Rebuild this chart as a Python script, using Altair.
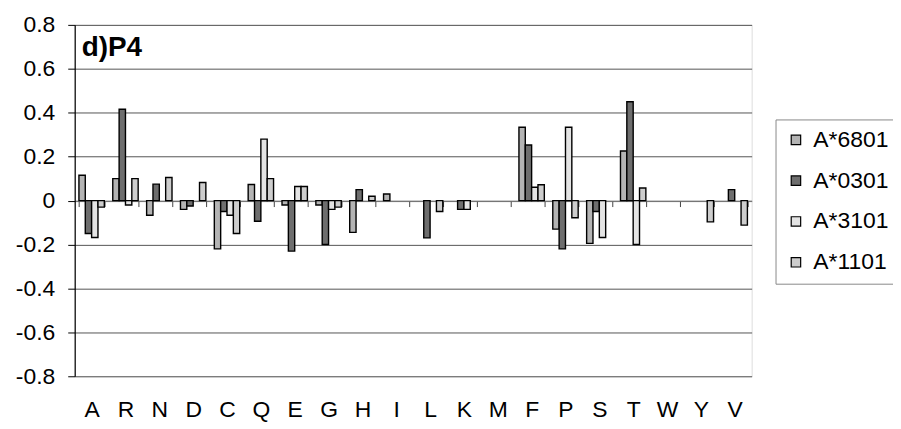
import altair as alt
import pandas as pd

categories = list("ARNDCQEGHILKMFPSTWYV")
alleles = ["A*6801", "A*0301", "A*3101", "A*1101"]
a6801 = [0.115, 0.10, -0.067, -0.04, -0.22, 0.073, -0.02, -0.02, -0.145, 0.03,
         0, 0, 0, 0.334, -0.13, -0.195, 0.226, 0, 0, 0]
a0301 = [-0.15, 0.416, 0.075, -0.025, -0.05, -0.094, -0.23, -0.20, 0.05, 0,
         -0.17, -0.04, 0, 0.253, -0.22, -0.05, 0.45, 0, 0, 0.05]
a3101 = [-0.168, -0.02, 0, 0, -0.067, 0.28, 0.064, -0.04, 0, 0,
         0, -0.04, 0, 0.061, 0.334, -0.168, -0.20, 0, 0, 0]
a1101 = [-0.03, 0.10, 0.105, 0.082, -0.15, 0.10, 0.064, -0.03, 0.02, 0,
         -0.05, 0, 0, 0.072, -0.078, 0, 0.057, 0, -0.097, -0.112]
colors = ["#b4b4b4", "#6e6e6e", "#e4e4e4", "#cdcdcd"]
y_ticks = [-0.8, -0.6, -0.4, -0.2, 0, 0.2, 0.4, 0.6, 0.8]
panel_title = "d)P4"

rows = []
for name, vals in zip(alleles, [a6801, a0301, a3101, a1101]):
    for c, v in zip(categories, vals):
        rows.append({"aa": c, "allele": name, "value": v})
df = pd.DataFrame(rows)

FONT = "Liberation Sans"

bars = alt.Chart(df).transform_filter("datum.value != 0").mark_bar(
    stroke="black", strokeWidth=1.4
).encode(
    x=alt.X("aa:N", sort=categories,
            scale=alt.Scale(domain=categories, paddingInner=0.25, paddingOuter=0.125),
            axis=alt.Axis(title=None, orient="bottom", offset=-176.5,
                          domainColor="#888888", domainWidth=1,
                          ticks=True, tickBand="extent", tickSize=6,
                          tickColor="#444444", labelPadding=193,
                          labelAngle=0, labelFontSize=23, labelFont=FONT,
                          labelColor="black", grid=False)),
    xOffset=alt.XOffset("allele:N", sort=alleles,
                        scale=alt.Scale(domain=alleles, paddingInner=0, paddingOuter=0)),
    y=alt.Y("value:Q",
            scale=alt.Scale(domain=[-0.8, 0.8], nice=False, zero=False),
            axis=alt.Axis(title=None, values=y_ticks,
                          labelExpr="datum.value == 0 ? '0' : (datum.value < 0 ? '-' : '') + format(abs(datum.value), '.1f')",
                          labelFontSize=23, labelFont=FONT, labelColor="black",
                          labelPadding=13, tickSize=7, tickColor="black",
                          domainColor="black", domainWidth=1.2,
                          grid=True, gridColor="#555555", gridWidth=1)),
    fill=alt.Fill("allele:N", sort=alleles,
                  scale=alt.Scale(domain=alleles, range=colors),
                  legend=alt.Legend(title=None, orient="none",
                                    legendX=704, legendY=95,
                                    labelFontSize=23, labelFont=FONT,
                                    labelColor="black",
                                    symbolType="square", symbolSize=90,
                                    symbolStrokeColor="black",
                                    symbolStrokeWidth=1.2,
                                    labelOffset=6, rowPadding=17,
                                    padding=9, strokeColor="#888888",
                                    fillColor="white")),
)

title_layer = alt.Chart(pd.DataFrame({"t": [panel_title]})).mark_text(
    align="left", baseline="alphabetic", font=FONT, fontSize=28,
    fontWeight="bold", color="black"
).encode(
    x=alt.value(7), y=alt.value(31), text="t:N"
)

chart = alt.layer(bars, title_layer).properties(
    width=680, height=353,
    autosize=alt.AutoSizeParams(type="none"),
    padding={"left": 67, "top": 16, "right": 142, "bottom": 50},
).configure_view(stroke="#888888", strokeWidth=1).configure(background="white")

chart.save("out.html", embed_options={"renderer": "svg", "actions": False})
